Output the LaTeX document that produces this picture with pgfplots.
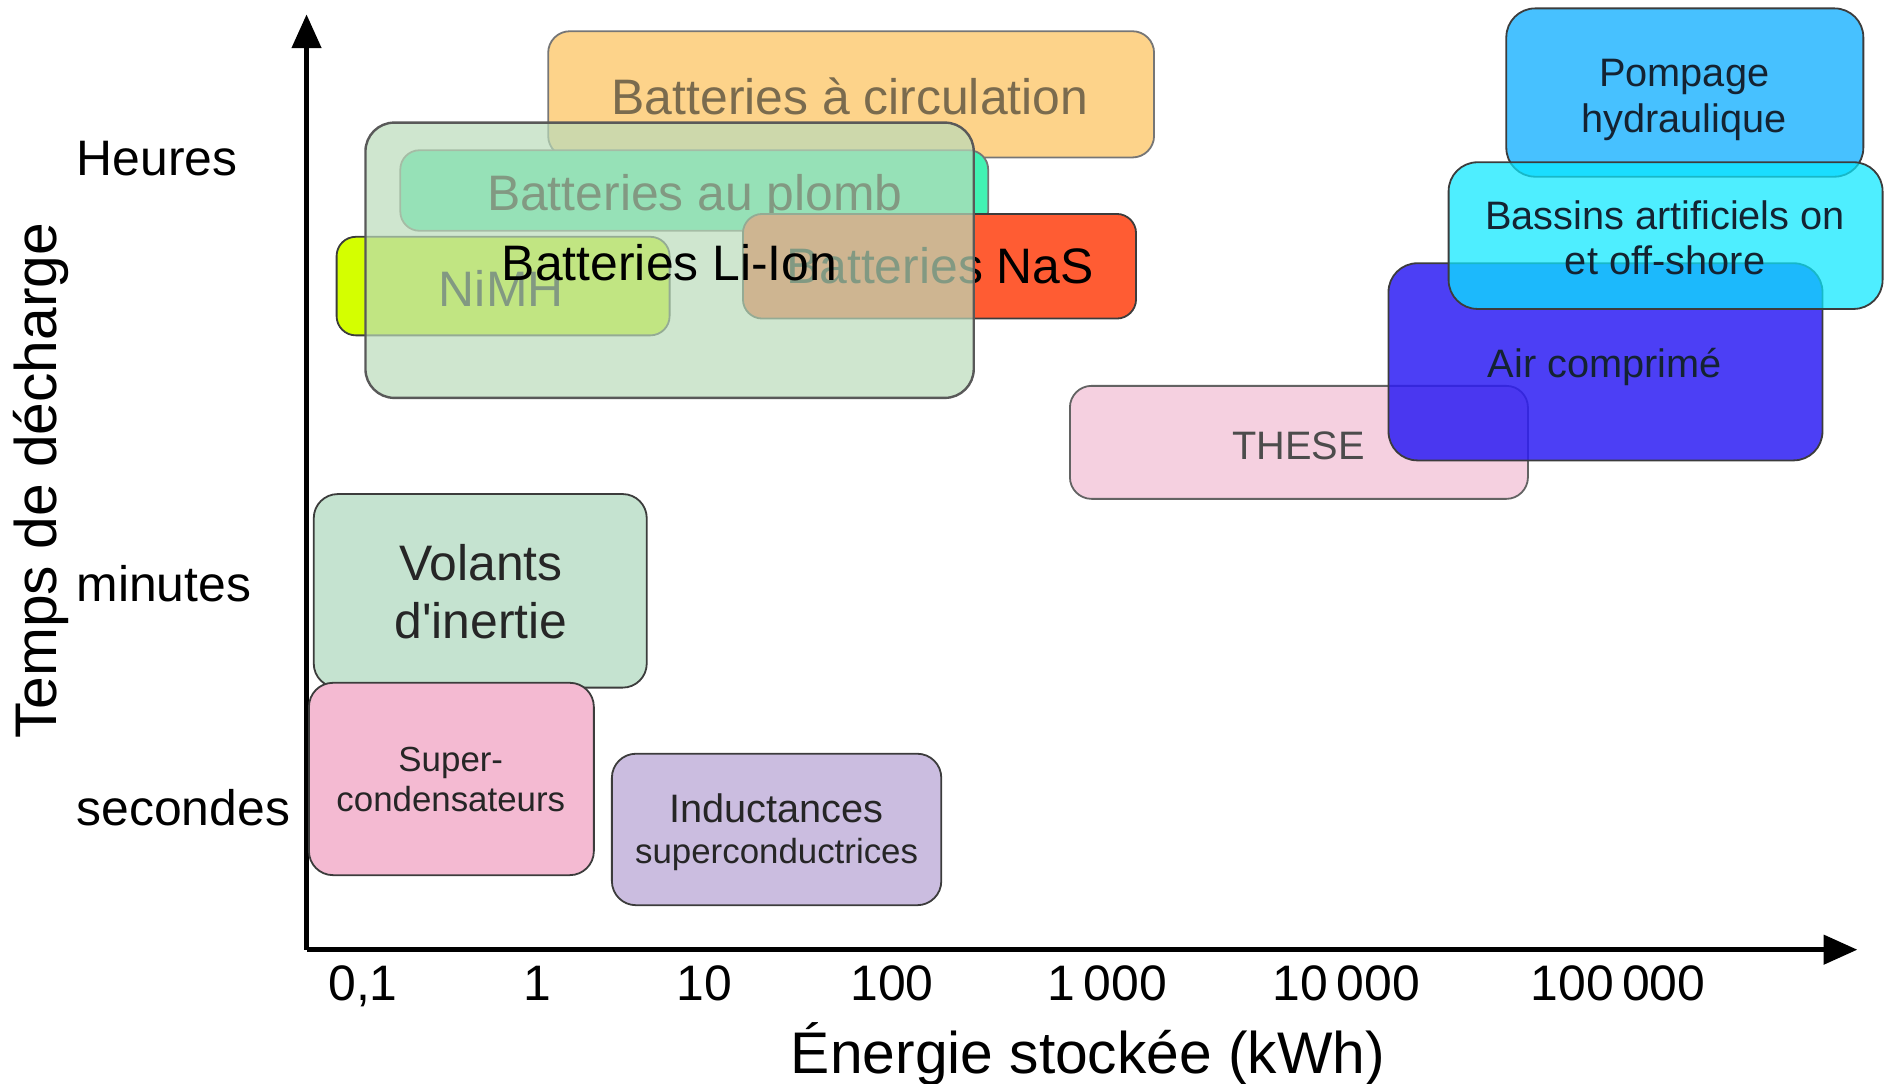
\documentclass[border=0pt]{standalone}
\usepackage{fontspec}
\setmainfont{Liberation Sans}
\usepackage{pgfplots}
\pgfplotsset{compat=1.18}
\usetikzlibrary{arrows.meta}
\definecolor{circ}{RGB}{253,211,138}
\definecolor{circtxt}{RGB}{122,107,78}
\definecolor{plomb}{RGB}{66,242,179}
\definecolor{nimh}{RGB}{212,255,0}
\definecolor{nas}{RGB}{255,92,51}
\definecolor{liion}{RGB}{186,219,186}
\definecolor{pomp}{RGB}{71,193,255}
\definecolor{bass}{RGB}{10,232,255}
\definecolor{air}{RGB}{45,29,243}
\definecolor{these}{RGB}{245,208,224}
\definecolor{volant}{RGB}{197,227,208}
\definecolor{super}{RGB}{244,186,210}
\definecolor{induct}{RGB}{203,189,224}
\definecolor{edge}{RGB}{60,60,60}
\definecolor{navy}{RGB}{20,35,50}
\newcommand\fA{\fontsize{11.8}{14}\selectfont}
\newcommand\fB{\fontsize{9.4}{11}\selectfont}
\newcommand\fC{\fontsize{8.25}{10}\selectfont}
\newcommand\fL{\fontsize{13.9}{16}\selectfont}
% x1, ybottom, x2, ytop, ymid
\newcommand{\rbox}[6]{\addplot[#1] coordinates {(#2,#6) (#2,#5) (#4,#5) (#4,#3) (#2,#3) (#2,#6)};}
\begin{document}
\begin{tikzpicture}
\begin{axis}[
  x=0.1mm, y=0.1mm,
  xmin=255, xmax=1545, ymin=111, ymax=889,
  axis lines=left,
  axis line style={line width=0.4mm, -{Triangle[length=2.8mm,width=2.4mm]}},
  clip=false, enlargelimits=false,
  xtick={302,447,586,742,921,1120,1346},
  xticklabels={{0,1},{1},{10},{100},{1\,000},{10\,000},{100\,000}},
  ytick={214,401,755},
  yticklabels={secondes,minutes,Heures},
  major tick length=0pt,
  xticklabel style={font=\fA, anchor=base, inner sep=0pt, yshift=-4.2mm},
  yticklabel style={font=\fA, anchor=base west, inner sep=0pt, xshift=-19.2mm},
  xlabel={Énergie stockée (kWh)},
  xlabel style={font=\fL, at={(axis description cs:0.5039,-0.1324)}, anchor=base, inner sep=0pt},
  ylabel={Temps de décharge},
  ylabel style={font=\fL, at={(axis description cs:-0.1612,0.5013)}, anchor=base, inner sep=0pt},
]
\coordinate (BL) at (axis cs:0,0);
\coordinate (TR) at (axis cs:1568,901);
% batteries group
\rbox{fill=circ, draw=edge!70, line width=0.15mm, rounded corners=1.8mm}{456}{770}{960}{875}{822}
\node[anchor=base, font=\fA, text=circtxt] at (axis cs:707,806) {Batteries à circulation};
\rbox{fill=plomb, draw=edge!70, line width=0.15mm, rounded corners=1.6mm}{333}{709}{822}{776}{742}
\node[anchor=base, font=\fA] at (axis cs:578,726) {Batteries au plomb};
\rbox{fill=nas, draw=edge, line width=0.15mm, rounded corners=1.6mm}{618}{636}{945}{723}{680}
\node[anchor=base, font=\fA] at (axis cs:782,665) {Batteries NaS};
\rbox{fill=nimh, draw=edge, line width=0.15mm, rounded corners=1.6mm}{280}{622}{557}{704}{663}
\node[anchor=base, font=\fA] at (axis cs:417,646) {NiMH};
\rbox{fill=liion, fill opacity=0.7, draw=edge!85, line width=0.2mm, rounded corners=2.4mm}{304}{570}{810}{799}{684}
\node[anchor=base, font=\fA] at (axis cs:557,668) {Batteries Li-Ion};
% low-left group
\rbox{fill=volant, draw=edge, line width=0.15mm, rounded corners=2mm}{261}{329}{538}{490}{410}
\node[anchor=base, font=\fA, text=black!85] at (axis cs:400,418) {Volants};
\node[anchor=base, font=\fA, text=black!85] at (axis cs:400,370) {d\textquotesingle inertie};
\rbox{fill=super, draw=edge, line width=0.15mm, rounded corners=2mm}{257}{173}{494}{333}{253}
\node[anchor=base, font=\fC, text=black!85] at (axis cs:375,259) {Super-};
\node[anchor=base, font=\fC, text=black!85] at (axis cs:375,226) {condensateurs};
\rbox{fill=induct, draw=edge, line width=0.15mm, rounded corners=2mm}{509}{148}{783}{274}{211}
\node[anchor=base, font=\fB, text=black!85] at (axis cs:646,217) {Inductances};
\node[anchor=base, font=\fC, text=black!85] at (axis cs:646,183) {superconductrices};
% large scale group
\rbox{fill=pomp, draw=edge, line width=0.15mm, rounded corners=2.4mm}{1253}{754}{1550}{894}{824}
\node[anchor=base, font=\fB, text=navy] at (axis cs:1401,829) {Pompage};
\node[anchor=base, font=\fB, text=navy] at (axis cs:1401,791) {hydraulique};
\rbox{fill=these, draw=edge!80, line width=0.15mm, rounded corners=1.8mm}{890}{486}{1271}{580}{533}
\node[anchor=base, font=\fB, text=black!70] at (axis cs:1080,519) {THESE};
\rbox{fill=air, fill opacity=0.85, draw=edge, line width=0.15mm, rounded corners=2.4mm}{1155}{518}{1516}{682}{600}
\rbox{fill=bass, fill opacity=0.72, draw=edge, line width=0.15mm, rounded corners=2.4mm}{1205}{644}{1566}{766}{705}
\node[anchor=base, font=\fB, text=navy] at (axis cs:1385,710) {Bassins artificiels on};
\node[anchor=base, font=\fB, text=navy] at (axis cs:1385,673) {et off-shore};
\node[anchor=base, font=\fB, text=navy] at (axis cs:1335,587) {Air comprimé};
\end{axis}
\pgfresetboundingbox
\path[use as bounding box] (BL) rectangle (TR);
\end{tikzpicture}
\end{document}
